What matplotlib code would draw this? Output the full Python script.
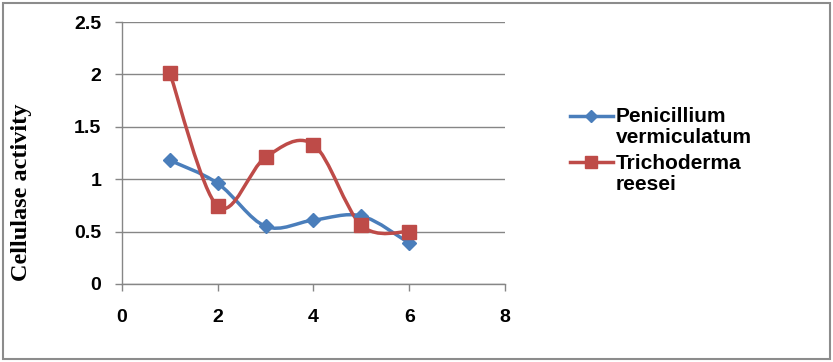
import matplotlib
matplotlib.use("Agg")
import matplotlib.pyplot as plt
from matplotlib.path import Path
from matplotlib.patches import PathPatch, Rectangle
from matplotlib.legend_handler import HandlerLine2D
import numpy as np

# ---- data ----
x_vals = [1, 2, 3, 4, 5, 6]
penicillium = [1.18, 0.96, 0.55, 0.61, 0.65, 0.39]
trichoderma = [2.01, 0.74, 1.21, 1.33, 0.56, 0.50]
series_names = ["Penicillium\nvermiculatum", "Trichoderma\nreesei"]
x_ticks = [0, 2, 4, 6, 8]
y_ticks = [0, 0.5, 1, 1.5, 2, 2.5]
y_tick_labels = ["0", "0.5", "1", "1.5", "2", "2.5"]
y_label = "Cellulase activity"

BLUE = "#4A7EBB"
RED = "#BE4B48"
GRID = "#868686"


def smooth_path(xs, ys):
    """Excel-style smoothed line as cubic Bezier path through the data points."""
    pts = np.column_stack([xs, ys]).astype(float)
    n = len(pts)
    verts = [tuple(pts[0])]
    codes = [Path.MOVETO]
    for i in range(n - 1):
        p0 = pts[i - 1] if i > 0 else pts[i]
        p1 = pts[i]
        p2 = pts[i + 1]
        p3 = pts[i + 2] if i + 2 < n else pts[i + 1]
        c1 = p1 + (p2 - p0) / 6.0
        c2 = p2 - (p3 - p1) / 6.0
        verts += [tuple(c1), tuple(c2), tuple(p2)]
        codes += [Path.CURVE4] * 3
    return Path(verts, codes)


class FirstLineHandler(HandlerLine2D):
    """Place the legend handle level with the first line of a two-line label."""
    def __init__(self, dy, **kw):
        super().__init__(**kw)
        self.dy = dy

    def create_artists(self, legend, orig_handle, xdescent, ydescent, width,
                       height, fontsize, trans):
        return super().create_artists(legend, orig_handle, xdescent,
                                      ydescent - 2 * self.dy, width, height,
                                      fontsize, trans)


fig = plt.figure(figsize=(8.33, 3.62), dpi=100)
fig.patch.set_facecolor("white")
fig.patches.append(Rectangle((0.004, 0.008), 0.992, 0.984, transform=fig.transFigure,
                             fill=False, edgecolor="#8c8c8c", linewidth=1.5))

ax = fig.add_axes([0.1465, 0.2155, 0.4597, 0.7235])
ax.set_xlim(0, 8)
ax.set_ylim(0, 2.5)

handles = []
for ys, col, mk, ms, name in [(penicillium, BLUE, "D", 7.5, series_names[0]),
                              (trichoderma, RED, "s", 10.5, series_names[1])]:
    ax.add_patch(PathPatch(smooth_path(x_vals, ys), fill=False, edgecolor=col,
                           linewidth=2.5, zorder=3, capstyle="round", joinstyle="round"))
    ax.plot(x_vals, ys, linestyle="none", marker=mk, markersize=ms, color=col, zorder=4)
    h, = ax.plot([], [], color=col, linewidth=2.5, marker=mk, markersize=ms * 0.85,
                 label=name)
    handles.append(h)

ax.set_yticks(y_ticks)
ax.set_yticklabels(y_tick_labels)
ax.set_xticks(x_ticks)
ax.grid(axis="y", color=GRID, linewidth=1.0)
ax.set_axisbelow(True)
for s in ["top", "right"]:
    ax.spines[s].set_visible(False)
for s in ["left", "bottom"]:
    ax.spines[s].set_color(GRID)
    ax.spines[s].set_linewidth(1.0)
ax.tick_params(axis="both", colors=GRID, length=5, width=1.0, direction="out")
for lab in ax.get_xticklabels() + ax.get_yticklabels():
    lab.set_color("black")
    lab.set_fontsize(14)
    lab.set_fontweight("bold")
    lab.set_fontfamily("Liberation Sans")
ax.tick_params(axis="x", pad=13)
ax.tick_params(axis="y", pad=10)

fig.text(0.026, 0.47, y_label, rotation=90, ha="center", va="center",
         fontsize=17.5, fontweight="bold", family="Liberation Serif")

leg = fig.legend(handles=handles, loc="upper left", bbox_to_anchor=(0.684, 0.704),
                 frameon=False,
                 prop={"family": "Liberation Sans", "weight": "bold", "size": 15},
                 handlelength=2.07, handletextpad=0.15, labelspacing=0.3,
                 borderaxespad=0, borderpad=0,
                 handler_map={h: FirstLineHandler(8.3) for h in handles})
for t in leg.get_texts():
    t.set_linespacing(1.15)

fig.savefig("out.png", dpi=100, facecolor="white")
